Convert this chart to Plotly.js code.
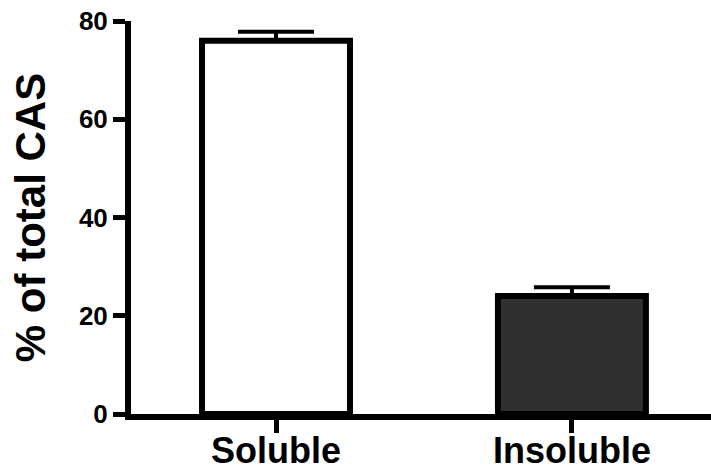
<!DOCTYPE html>
<html>
<head>
<meta charset="utf-8">
<script src="https://cdn.plot.ly/plotly-3.0.1.min.js"></script>
<style>
html,body{margin:0;padding:0;background:#fff;}
#chart{width:711px;height:471px;}
</style>
</head>
<body>
<div id="chart"></div>
<script>
const categories = ["Soluble", "Insoluble"];
const values = [76, 24];
const errors = [1.8, 1.8];
const fillColors = ["#ffffff", "#303030"];
const yTicks = [0, 20, 40, 60, 80];

const FONT = "Liberation Sans, Arial, sans-serif";

const trace = {
  type: "bar",
  x: categories,
  y: values,
  width: 0.5,
  marker: {color: fillColors, line: {color: "#000", width: 6}},
  error_y: {
    type: "data",
    symmetric: false,
    array: errors,
    arrayminus: errors.map(() => 0),
    color: "#000",
    thickness: 4,
    width: 38
  },
  hoverinfo: "none"
};

const layout = {
  width: 711,
  height: 471,
  margin: {l: 131, r: 0, t: 21, b: 57},
  paper_bgcolor: "#fff",
  plot_bgcolor: "#fff",
  showlegend: false,
  xaxis: {
    type: "category",
    range: [-0.49, 1.47],
    showline: true,
    linecolor: "#000",
    linewidth: 6,
    ticks: "outside",
    ticklen: 13,
    tickwidth: 5,
    tickcolor: "#000",
    showgrid: false,
    zeroline: false,
    ticklabelstandoff: -13,
    tickfont: {family: FONT, size: 36, color: "#000", weight: "bold"},
    fixedrange: true
  },
  yaxis: {
    range: [0, 80],
    tickvals: yTicks,
    ticktext: yTicks.map(String),
    showline: true,
    linecolor: "#000",
    linewidth: 6,
    ticks: "outside",
    ticklen: 12,
    tickwidth: 5,
    tickcolor: "#000",
    showgrid: false,
    zeroline: false,
    tickfont: {family: FONT, size: 26, color: "#000", weight: "bold"},
    title: {text: "% of total CAS", font: {family: FONT, size: 42, color: "#000", weight: "bold"}, standoff: 22},
    automargin: false,
    fixedrange: true
  }
};

Plotly.newPlot("chart", [trace], layout, {staticPlot: true, displayModeBar: false});
</script>
</body>
</html>
